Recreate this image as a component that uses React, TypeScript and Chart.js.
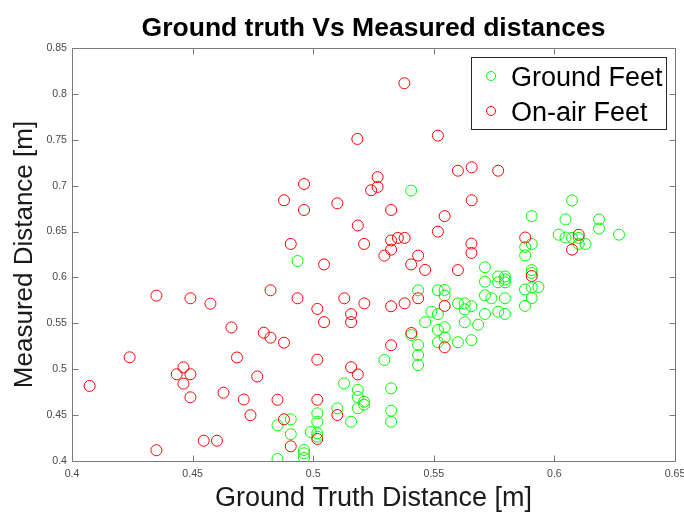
import React, { useEffect, useRef } from 'react';
import { Chart, registerables } from 'chart.js';

Chart.register(...registerables);

const CHART_TITLE = 'Ground truth Vs Measured distances';
const X_TITLE = 'Ground Truth Distance [m]';
const Y_TITLE = 'Measured Distance [m]';
const SERIES_NAMES = ['Ground Feet', 'On-air Feet'];
const SERIES_COLORS = ['#00ff00', '#ff0000'];

const xTickValues = [0.4, 0.45, 0.5, 0.55, 0.6, 0.65];
const xTickLabels = ['0.4', '0.45', '0.5', '0.55', '0.6', '0.65'];
const yTickValues = [0.4, 0.45, 0.5, 0.55, 0.6, 0.65, 0.7, 0.75, 0.8, 0.85];
const yTickLabels = ['0.4', '0.45', '0.5', '0.55', '0.6', '0.65', '0.7', '0.75', '0.8', '0.85'];

const groundX = [
  0.5406, 0.4935, 0.6073, 0.5906, 0.6046, 0.6185, 0.6185, 0.6268, 0.6018, 0.6046,
  0.6073, 0.6101, 0.6101, 0.6129, 0.5906, 0.5879, 0.5879, 0.5712, 0.5906, 0.5906,
  0.5767, 0.5795, 0.5795, 0.5767, 0.5795, 0.5712, 0.5878, 0.5906, 0.5934, 0.5906,
  0.5517, 0.5545, 0.5545, 0.5435, 0.5712, 0.5739, 0.5795, 0.5600, 0.5628, 0.5628,
  0.5656, 0.5878, 0.5490, 0.5517, 0.5712, 0.5767, 0.5795, 0.5464, 0.5628, 0.5684,
  0.5517, 0.5545, 0.5545, 0.5517, 0.5600, 0.5656, 0.5407, 0.5435, 0.5435, 0.5435,
  0.5295, 0.5128, 0.5185, 0.5185, 0.5211, 0.5211, 0.5185, 0.5100, 0.5157, 0.5323,
  0.5323, 0.5323, 0.5017, 0.5017, 0.5017, 0.5017, 0.4990, 0.4907, 0.4852, 0.4907,
  0.4962, 0.4962, 0.4962, 0.4852,
];
const groundY = [
  0.6946, 0.6179, 0.6839, 0.6668, 0.6632, 0.6632, 0.6533, 0.6466, 0.6466, 0.6435,
  0.6431, 0.6431, 0.6365, 0.6365, 0.6365, 0.6332, 0.6240, 0.6111, 0.6080, 0.6049,
  0.6011, 0.6011, 0.5978, 0.5947, 0.5947, 0.5954, 0.5869, 0.5891, 0.5896, 0.5776,
  0.5860, 0.5864, 0.5802, 0.5860, 0.5806, 0.5773, 0.5773, 0.5717, 0.5717, 0.5653,
  0.5687, 0.5690, 0.5626, 0.5600, 0.5602, 0.5627, 0.5602, 0.5513, 0.5512, 0.5485,
  0.5428, 0.5457, 0.5346, 0.5294, 0.5294, 0.5317, 0.5373, 0.5264, 0.5155, 0.5046,
  0.5101, 0.4845, 0.4774, 0.4698, 0.4646, 0.4613, 0.4574, 0.4574, 0.4428, 0.4792,
  0.4548, 0.4428, 0.4520, 0.4428, 0.4302, 0.4265, 0.4316, 0.4454, 0.4389, 0.4292,
  0.4120, 0.4084, 0.4033, 0.4022,
];

const onAirX = [
  0.5378, 0.5183, 0.5517, 0.5600, 0.5657, 0.5767, 0.5267, 0.4962, 0.5240, 0.5267,
  0.4879, 0.4962, 0.5100, 0.5323, 0.5657, 0.5545, 0.5185, 0.5517, 0.4907, 0.5211,
  0.5323, 0.5351, 0.5379, 0.5323, 0.5295, 0.5435, 0.5406, 0.5464, 0.5045, 0.5656,
  0.5656, 0.5600, 0.5879, 0.6101, 0.6073, 0.5906, 0.5545, 0.4823, 0.4935, 0.5129,
  0.5212, 0.5323, 0.5379, 0.5435, 0.5017, 0.5157, 0.5157, 0.5045, 0.4795, 0.4823,
  0.4879, 0.4661, 0.4684, 0.4768, 0.5017, 0.5157, 0.5185, 0.5323, 0.5407, 0.4712,
  0.4740, 0.4852, 0.5017, 0.4879, 0.5100, 0.4907, 0.5017, 0.5545, 0.4350, 0.4491,
  0.4574, 0.4239, 0.4462, 0.4434, 0.4491, 0.4462, 0.4073, 0.4491, 0.4628, 0.4546,
  0.4601, 0.4350,
];
const onAirY = [
  0.8116, 0.7509, 0.7545, 0.7163, 0.7200, 0.7163, 0.7093, 0.7018, 0.6950, 0.6986,
  0.6841, 0.6735, 0.6808, 0.6735, 0.6841, 0.6668, 0.6566, 0.6499, 0.6365, 0.6365,
  0.6403, 0.6431, 0.6431, 0.6303, 0.6238, 0.6238, 0.6142, 0.6082, 0.6142, 0.6369,
  0.6267, 0.6080, 0.6435, 0.6465, 0.6303, 0.6016, 0.5690, 0.5860, 0.5773, 0.5773,
  0.5717, 0.5686, 0.5718, 0.5773, 0.5657, 0.5600, 0.5513, 0.5513, 0.5398, 0.5344,
  0.5289, 0.5455, 0.5128, 0.4921, 0.5104, 0.5022, 0.4943, 0.5261, 0.5395, 0.4670,
  0.4499, 0.4667, 0.4667, 0.4454, 0.4501, 0.4160, 0.4240, 0.5239, 0.5802, 0.5773,
  0.5714, 0.5130, 0.5021, 0.4945, 0.4945, 0.4843, 0.4818, 0.4694, 0.4744, 0.4221,
  0.4221, 0.4117,
];

const FONT = '"Liberation Sans", Arial, Helvetica, sans-serif';
const AXIS_COLOR = '#7a7a7a';
const TICK_TEXT = '#4a4a4a';

const framePlugin = {
  id: 'matlabFrame',
  afterDraw(chart: any) {
    const { ctx, chartArea: a, scales } = chart;
    const xs = scales.x;
    const ys = scales.y;
    ctx.save();
    ctx.strokeStyle = AXIS_COLOR;
    ctx.lineWidth = 1;
    const L = Math.round(a.left) + 0.5;
    const T = Math.round(a.top) + 0.5;
    const R = Math.round(a.right) + 0.5;
    const B = Math.round(a.bottom) + 0.5;
    ctx.beginPath();
    ctx.moveTo(L, T);
    ctx.lineTo(R, T);
    ctx.lineTo(R, B);
    ctx.lineTo(L, B);
    ctx.closePath();
    const tl = 6;
    for (const t of xs.ticks) {
      const px = Math.round(xs.getPixelForValue(t.value)) + 0.5;
      ctx.moveTo(px, B);
      ctx.lineTo(px, B - tl);
      ctx.moveTo(px, T);
      ctx.lineTo(px, T + tl);
    }
    for (const t of ys.ticks) {
      const py = Math.round(ys.getPixelForValue(t.value)) + 0.5;
      ctx.moveTo(L, py);
      ctx.lineTo(L + tl, py);
      ctx.moveTo(R, py);
      ctx.lineTo(R - tl, py);
    }
    ctx.stroke();

    ctx.fillStyle = '#000';
    ctx.font = `bold 26.5px ${FONT}`;
    ctx.textAlign = 'center';
    ctx.textBaseline = 'alphabetic';
    ctx.fillText(CHART_TITLE, (a.left + a.right) / 2, 36);

    const ds = chart.data.datasets;
    ctx.font = `27px ${FONT}`;
    let maxW = 0;
    for (const d of ds) maxW = Math.max(maxW, ctx.measureText(d.label).width);
    const boxRight = Math.round(a.right - 9) + 0.5;
    const boxTop = Math.round(a.top + 9) + 0.5;
    const boxH = 72;
    const boxW = Math.round(maxW + 43);
    const boxLeft = boxRight - boxW;
    ctx.fillStyle = '#fff';
    ctx.fillRect(boxLeft, boxTop, boxW, boxH);
    ctx.strokeStyle = '#262626';
    ctx.lineWidth = 1;
    ctx.strokeRect(boxLeft, boxTop, boxW, boxH);
    ds.forEach((d: any, i: number) => {
      const cy = boxTop + 18.5 + i * 35;
      ctx.beginPath();
      ctx.strokeStyle = d.borderColor;
      ctx.lineWidth = 1;
      ctx.arc(boxLeft + 19.5, cy, 4.5, 0, Math.PI * 2);
      ctx.stroke();
      ctx.fillStyle = '#000';
      ctx.textAlign = 'left';
      ctx.textBaseline = 'alphabetic';
      ctx.fillText(d.label, boxLeft + 39.5, cy + 10);
    });
    ctx.restore();
  },
};

export default function App() {
  const canvasRef = useRef<HTMLCanvasElement | null>(null);

  useEffect(() => {
    if (!canvasRef.current) return;
    const mk = (xs: number[], ys: number[]) => xs.map((x, i) => ({ x, y: ys[i] }));
    const chart = new Chart(canvasRef.current, {
      type: 'scatter',
      data: {
        datasets: [
          {
            label: SERIES_NAMES[0],
            data: mk(groundX, groundY),
            borderColor: SERIES_COLORS[0],
            backgroundColor: 'rgba(0,0,0,0)',
            pointRadius: 5.5,
            pointHoverRadius: 5.5,
            pointBorderWidth: 1,
            borderWidth: 1,
            order: 1,
          },
          {
            label: SERIES_NAMES[1],
            data: mk(onAirX, onAirY),
            borderColor: SERIES_COLORS[1],
            backgroundColor: 'rgba(0,0,0,0)',
            pointRadius: 5.5,
            pointHoverRadius: 5.5,
            pointBorderWidth: 1,
            borderWidth: 1,
            order: 0,
          },
        ],
      },
      options: {
        animation: false,
        responsive: false,
        devicePixelRatio: 1,
        events: [],
        layout: { padding: { top: 48, right: 9, bottom: 0, left: 0 } },
        plugins: {
          legend: { display: false },
          title: { display: false },
          tooltip: { enabled: false },
        },
        scales: {
          x: {
            type: 'linear',
            position: 'bottom',
            min: 0.4,
            max: 0.65,
            afterBuildTicks: (s: any) => {
              s.ticks = xTickValues.map((v) => ({ value: v }));
            },
            afterFit: (s: any) => {
              s.height = 55;
              s.paddingLeft = 0;
              s.paddingRight = 0;
            },
            grid: { display: false, drawTicks: false },
            border: { display: false },
            ticks: {
              padding: 7,
              color: TICK_TEXT,
              autoSkip: false,
              maxRotation: 0,
              font: { family: FONT, size: 10.6 },
              callback: (_v: any, i: number) => xTickLabels[i],
            },
            title: {
              display: true,
              text: X_TITLE,
              color: '#1a1a1a',
              font: { family: FONT, size: 27 },
              padding: { top: 0, bottom: 1 },
            },
          },
          y: {
            type: 'linear',
            position: 'left',
            min: 0.4,
            max: 0.85,
            afterBuildTicks: (s: any) => {
              s.ticks = yTickValues.map((v) => ({ value: v }));
            },
            afterFit: (s: any) => {
              s.width = 72;
              s.paddingTop = 0;
              s.paddingBottom = 0;
            },
            grid: { display: false, drawTicks: false },
            border: { display: false },
            ticks: {
              padding: 5,
              color: TICK_TEXT,
              autoSkip: false,
              font: { family: FONT, size: 10.6 },
              callback: (_v: any, i: number) => yTickLabels[i],
            },
            title: {
              display: true,
              text: Y_TITLE,
              color: '#1a1a1a',
              font: { family: FONT, size: 26 },
              padding: { top: 9, bottom: 0 },
            },
          },
        },
      },
      plugins: [framePlugin],
    } as any);
    return () => chart.destroy();
  }, []);

  return (
    <div style={{ position: 'absolute', left: 0, top: 0, width: 684, height: 516, background: '#fff' }}>
      <canvas ref={canvasRef} width={684} height={516} style={{ display: 'block' }} />
    </div>
  );
}
